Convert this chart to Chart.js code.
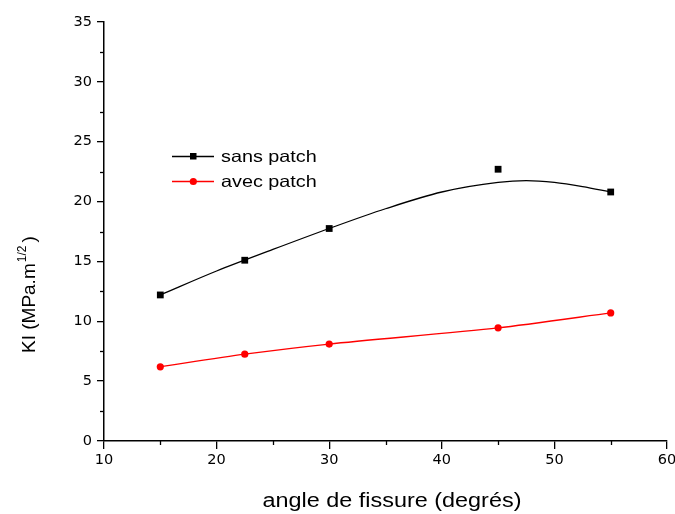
<!DOCTYPE html>
<html>
<head>
<meta charset="utf-8">
<script src="https://cdn.jsdelivr.net/npm/chart.js@4"></script>
<style>
  html, body { margin: 0; padding: 0; background: #fff; }
  #wrap { width: 675px; height: 514px; }
</style>
</head>
<body>
<div id="wrap"><canvas id="c" width="675" height="514"></canvas></div>
<script>
// Crack angle (degrees) and stress intensity factor KI (MPa.m^1/2)
const angles = [15, 22.5, 30, 45, 55];
const sansPatch = [12.2, 15.1, 17.75, 22.7, 20.8];
const avecPatch = [6.2, 7.25, 8.1, 9.45, 10.7];

// Smoothed trend drawn through the "sans patch" measurements
const trendAngles = [15, 20, 25, 30, 35, 40, 45, 47.5, 50, 52.5, 55];
const trendValues = [12.2, 14.2, 16.0, 17.75, 19.4, 20.8, 21.6, 21.75, 21.6, 21.25, 20.8];

const xTicks = [10, 20, 30, 40, 50, 60];
const yTicks = [0, 5, 10, 15, 20, 25, 30, 35];

const seriesNames = ['sans patch', 'avec patch'];
const xTitle = 'angle de fissure (degrés)';
const yTitleMain = 'KI (MPa.m';
const yTitleSup = '1/2';
const yTitleEnd = ')';

const FONT = '"Liberation Sans", Arial, sans-serif';
const TICK_FONT = '"DejaVu Sans", sans-serif';
const WIDE = 1.2; // horizontal stretch of the label text

const pts = (xs, ys) => xs.map((x, i) => ({ x: x, y: ys[i] }));

// draw text stretched horizontally, anchored at (x, y)
function wideText(ctx, text, x, y, align) {
  const w = ctx.measureText(text).width * WIDE;
  let x0 = x;
  if (align === 'center') x0 = x - w / 2;
  ctx.save();
  ctx.translate(x0, y);
  ctx.scale(WIDE, 1);
  ctx.textAlign = 'left';
  ctx.fillText(text, 0, 0);
  ctx.restore();
}

// Axis decorations: minor ticks, axis titles, in-plot legend
const decorations = {
  id: 'decorations',
  afterDraw(chart) {
    const ctx = chart.ctx;
    const xs = chart.scales.x, ys = chart.scales.y;
    const area = chart.chartArea;
    ctx.save();
    ctx.strokeStyle = '#000';
    ctx.lineWidth = 1.3;
    // minor ticks halfway between labelled ticks
    for (let i = 0; i < xTicks.length - 1; i++) {
      const px = Math.round(xs.getPixelForValue((xTicks[i] + xTicks[i + 1]) / 2)) + 0.5;
      ctx.beginPath(); ctx.moveTo(px, area.bottom); ctx.lineTo(px, area.bottom + 4); ctx.stroke();
    }
    for (let i = 0; i < yTicks.length - 1; i++) {
      const py = Math.round(ys.getPixelForValue((yTicks[i] + yTicks[i + 1]) / 2)) + 0.5;
      ctx.beginPath(); ctx.moveTo(area.left, py); ctx.lineTo(area.left - 4, py); ctx.stroke();
    }

    ctx.fillStyle = '#000';
    ctx.textBaseline = 'alphabetic';

    // x axis title
    ctx.font = '19.5px ' + FONT;
    wideText(ctx, xTitle, 392, 507, 'center');

    // y axis title with superscript exponent
    ctx.save();
    ctx.translate(35, 353);
    ctx.rotate(-Math.PI / 2);
    ctx.textAlign = 'left';
    ctx.font = '19px ' + FONT;
    ctx.fillText(yTitleMain, 0, 0);
    let w = ctx.measureText(yTitleMain).width;
    ctx.font = '12px ' + FONT;
    ctx.fillText(yTitleSup, w + 1, -9);
    w += 1 + ctx.measureText(yTitleSup).width + 3;
    ctx.font = '19px ' + FONT;
    ctx.fillText(yTitleEnd, w, 0);
    ctx.restore();

    // legend
    const items = [
      { label: seriesNames[0], color: '#000', style: 'rect', y: 156 },
      { label: seriesNames[1], color: '#ff0000', style: 'circle', y: 181 }
    ];
    ctx.font = '16.5px ' + FONT;
    ctx.textBaseline = 'middle';
    items.forEach(it => {
      ctx.strokeStyle = it.color;
      ctx.fillStyle = it.color;
      ctx.lineWidth = 1.3;
      ctx.beginPath(); ctx.moveTo(172, it.y + 0.5); ctx.lineTo(214, it.y + 0.5); ctx.stroke();
      if (it.style === 'rect') {
        ctx.fillRect(190, it.y - 3, 6.5, 6.5);
      } else {
        ctx.beginPath(); ctx.arc(193.3, it.y + 0.5, 3.6, 0, Math.PI * 2); ctx.fill();
      }
      ctx.fillStyle = '#000';
      wideText(ctx, it.label, 221, it.y + 1, 'left');
    });
    ctx.restore();
  }
};

new Chart(document.getElementById('c'), {
  type: 'scatter',
  data: {
    datasets: [
      {
        label: seriesNames[0],
        data: pts(angles, sansPatch),
        showLine: false,
        pointStyle: 'rect',
        pointRadius: 4.8,
        backgroundColor: '#000',
        borderColor: '#000',
        pointBorderWidth: 0
      },
      {
        label: seriesNames[0] + ' (lissage)',
        data: pts(trendAngles, trendValues),
        showLine: true,
        pointRadius: 0,
        borderColor: '#000',
        borderWidth: 1.3,
        tension: 0.4,
        cubicInterpolationMode: 'monotone'
      },
      {
        label: seriesNames[1],
        data: pts(angles, avecPatch),
        showLine: true,
        pointStyle: 'circle',
        pointRadius: 3.6,
        pointBorderWidth: 0,
        backgroundColor: '#ff0000',
        borderColor: '#ff0000',
        borderWidth: 1.3,
        tension: 0.25
      }
    ]
  },
  options: {
    responsive: false,
    animation: false,
    events: [],
    layout: { padding: { left: 0, right: 8, top: 22, bottom: 0 } },
    plugins: {
      legend: { display: false },
      tooltip: { enabled: false },
      title: { display: false }
    },
    scales: {
      x: {
        type: 'linear',
        min: 10, max: 60,
        afterFit(s) { s.height = 73; s.paddingLeft = 0; s.paddingRight = 0; },
        afterBuildTicks(s) { s.ticks = xTicks.map(v => ({ value: v })); },
        border: { display: true, color: '#000', width: 1.5 },
        grid: { display: true, drawOnChartArea: false, drawTicks: true, tickLength: 8, color: '#000', lineWidth: 1.3 },
        ticks: { color: '#000', font: { family: TICK_FONT, size: 14.5 }, padding: 3, maxRotation: 0 }
      },
      y: {
        type: 'linear',
        min: 0, max: 35,
        afterFit(s) { s.width = 104; s.paddingTop = 0; s.paddingBottom = 0; },
        afterBuildTicks(s) { s.ticks = yTicks.map(v => ({ value: v })); },
        border: { display: true, color: '#000', width: 1.5 },
        grid: { display: true, drawOnChartArea: false, drawTicks: true, tickLength: 7, color: '#000', lineWidth: 1.3 },
        ticks: { color: '#000', font: { family: TICK_FONT, size: 14.5 }, padding: 5 }
      }
    }
  },
  plugins: [decorations]
});
</script>
</body>
</html>
